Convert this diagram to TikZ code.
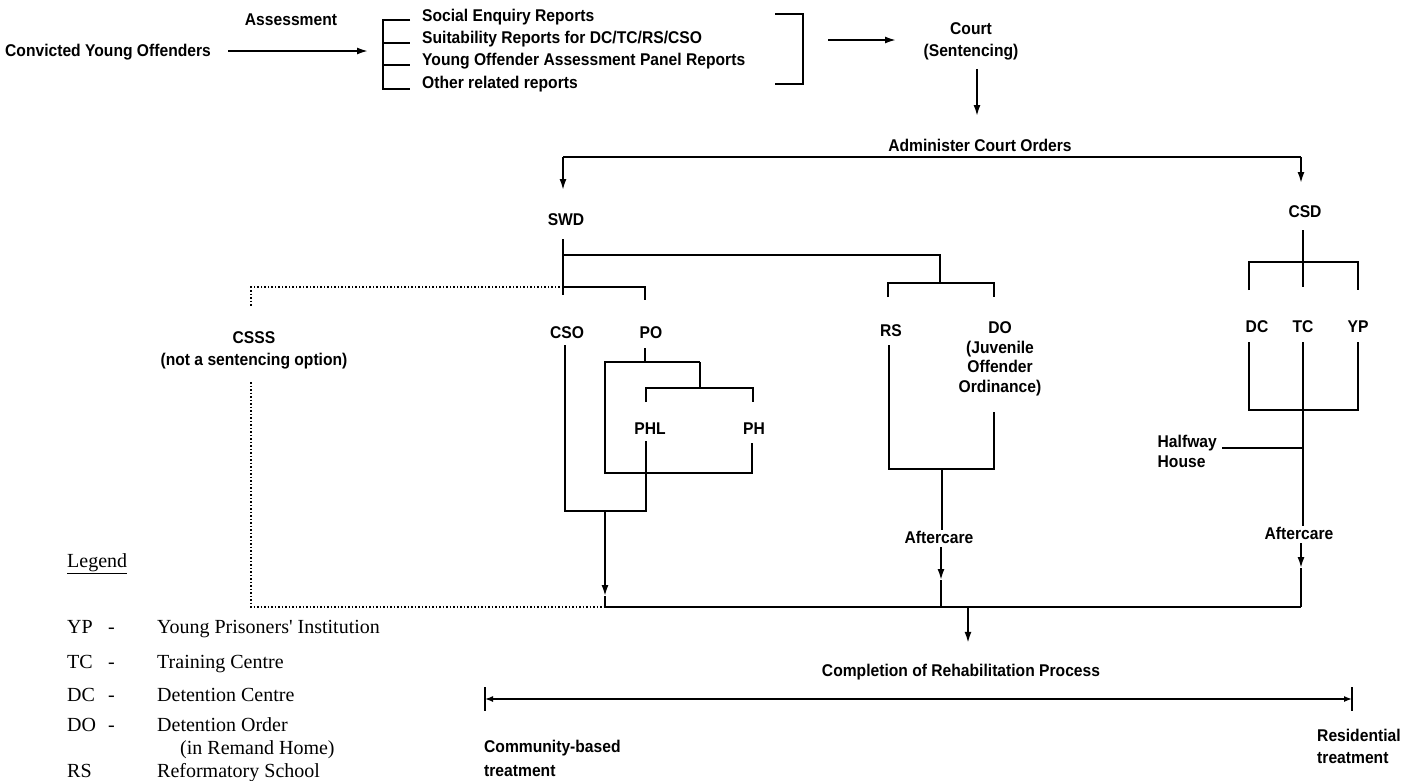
\documentclass[tikz,border=0pt]{standalone}
\usepackage{fontspec}
\setmainfont{Liberation Sans}[FakeStretch=0.92]
\newfontfamily\legendfont{Liberation Serif}
\usetikzlibrary{arrows.meta}

\begin{document}
\begin{tikzpicture}[x=1pt, y=-1pt,
                    lbl/.style={font=\bfseries\fontsize{17}{22}\selectfont, inner sep=1pt, align=center},
                    leg/.style={font=\legendfont\fontsize{20}{24}\selectfont, inner sep=0pt, anchor=base west},
                    line_style/.style={draw=black, line width=1.8pt},
                    edge_style/.style={-{Latex[length=11pt,width=7pt]}, draw=black, line width=1.8pt},
                    dot_style/.style={draw=black, line width=1.5pt, dotted}
   ]
   \useasboundingbox (0,0) rectangle (1416,780);
   \clip (0,0) rectangle (1416,780);

   % Assessment
   \node[lbl, anchor=west] (cyo) at (4,52) {Convicted Young Offenders};
   \node[lbl] (assess) at (291,20) {Assessment};
   \node[lbl, anchor=west] (rep1) at (421,17) {Social Enquiry Reports};
   \node[lbl, anchor=west] (rep2) at (421,39) {Suitability Reports for DC/TC/RS/CSO};
   \node[lbl, anchor=west] (rep3) at (421,61) {Young Offender Assessment Panel Reports};
   \node[lbl, anchor=west] (rep4) at (421,84) {Other related reports};
   \node[lbl] (court) at (971,41) {Court\\(Sentencing)};
   \node[lbl] (admin) at (980,145) {Administer Court Orders};

   % Departments
   \node[lbl] (swd) at (566,220) {SWD};
   \node[lbl] (csd) at (1305,212) {CSD};
   \node[lbl] (csss) at (254,350) {CSSS\\(not a sentencing option)};
   \node[lbl] (cso) at (567,333) {CSO};
   \node[lbl] (po) at (651,333) {PO};
   \node[lbl] (phl) at (650,429) {PHL};
   \node[lbl] (ph) at (754,429) {PH};
   \node[lbl] (rs) at (891,331) {RS};
   \node[lbl, font=\bfseries\fontsize{17}{19.5}\selectfont] (do) at (1000,359) {DO\\(Juvenile\\Offender\\Ordinance)};
   \node[lbl] (dc) at (1257,327) {DC};
   \node[lbl] (tc) at (1303,327) {TC};
   \node[lbl] (yp) at (1358,327) {YP};
   \node[lbl, align=left, anchor=east, font=\bfseries\fontsize{17}{20}\selectfont] (half) at (1218,451) {Halfway\\House};
   \node[lbl] (aft1) at (939,537) {Aftercare};
   \node[lbl] (aft2) at (1299,533) {Aftercare};

   % Completion
   \node[lbl] (done) at (961,672) {Completion of Rehabilitation Process};
   \node[lbl, align=left, anchor=west, font=\bfseries\fontsize{17}{24}\selectfont] (comm) at (483,758) {Community-based\\treatment};
   \node[lbl, align=left, anchor=west] (resid) at (1316,746) {Residential\\treatment};

   % Legend
   \node[leg] (leg_t) at (67,567) {\underline{Legend}};
   \node[leg] (ab_yp) at (67,633) {YP};
   \node[leg] (ds_yp) at (108,633) {-};
   \node[leg] (tx_yp) at (157,633) {Young Prisoners' Institution};
   \node[leg] (ab_tc) at (67,668) {TC};
   \node[leg] (ds_tc) at (108,668) {-};
   \node[leg] (tx_tc) at (157,668) {Training Centre};
   \node[leg] (ab_dc) at (67,701) {DC};
   \node[leg] (ds_dc) at (108,701) {-};
   \node[leg] (tx_dc) at (157,701) {Detention Centre};
   \node[leg] (ab_do) at (67,731) {DO};
   \node[leg] (ds_do) at (108,731) {-};
   \node[leg] (tx_do) at (157,731) {Detention Order};
   \node[leg] (tx_do2) at (180,754) {(in Remand Home)};
   \node[leg] (ab_rs) at (67,777) {RS};
   \node[leg] (tx_rs) at (157,777) {Reformatory School};

   % junctions
   \coordinate (lb_in) at (368,51);
   \coordinate (lb_t) at (410,20);
   \coordinate (lb_b) at (410,89);
   \coordinate (rb_t) at (775,14);
   \coordinate (rb_b) at (775,84);
   \coordinate (rb_out) at (828,40);
   \coordinate (court_in) at (896,40);
   \coordinate (court_out) at (977,116);
   \coordinate (adm_l) at (563,157);
   \coordinate (adm_r) at (1301,157);
   \coordinate (swd_in) at (563,190);
   \coordinate (csd_in) at (1301,183);
   \coordinate (swd_t) at (563,239);
   \coordinate (swd_j1) at (563,255);
   \coordinate (swd_j2) at (563,287);
   \coordinate (swd_b) at (563,295);
   \coordinate (inst_j) at (940,283);
   \coordinate (rs_t) at (888,297);
   \coordinate (do_t) at (994,297);
   \coordinate (po_t) at (645,300);
   \coordinate (csss_t) at (251,306);
   \coordinate (csss_b) at (251,382);
   \coordinate (cso_t) at (565,345);
   \coordinate (phl_t) at (646,441);
   \coordinate (cso_j) at (605,511);
   \coordinate (cso_arr) at (605,596);
   \coordinate (po_b) at (645,348);
   \coordinate (po_j) at (645,362);
   \coordinate (pbox_l) at (605,362);
   \coordinate (pbox_r) at (700,362);
   \coordinate (pbox_b) at (605,473);
   \coordinate (ph_b) at (752,443);
   \coordinate (ph_j) at (700,388);
   \coordinate (phl_s) at (646,402);
   \coordinate (ph_s) at (753,402);
   \coordinate (rs_b) at (889,345);
   \coordinate (do_b) at (994,412);
   \coordinate (rsdo_j) at (942,469);
   \coordinate (aft1_arr) at (941,580);
   \coordinate (csd_t) at (1303,230);
   \coordinate (csd_j) at (1303,262);
   \coordinate (tc_t) at (1303,287);
   \coordinate (dc_t) at (1249,290);
   \coordinate (yp_t) at (1358,290);
   \coordinate (dc_b) at (1249,342);
   \coordinate (tc_b) at (1303,342);
   \coordinate (yp_b) at (1358,342);
   \coordinate (inst_j2) at (1303,410);
   \coordinate (hw_j) at (1303,448);
   \coordinate (aft2_arr) at (1301,568);
   \coordinate (bot_m) at (605,607);
   \coordinate (bot_r) at (1301,607);
   \coordinate (done_j) at (968,607);
   \coordinate (cb_l) at (485,699);
   \coordinate (cb_r) at (1352,699);

   % top row
   \draw[edge_style, shorten <=16pt] (cyo.east |- lb_in) -- (lb_in);
   \draw[line_style] (lb_t) -- ++(-27,0) |- (lb_b);
   \draw[line_style] (383,43) -- (410,43);
   \draw[line_style] (383,65) -- (410,65);
   \draw[line_style] (rb_t) -- ++(28,0) |- (rb_b);
   \draw[edge_style] (rb_out) -- (court_in);
   \draw[edge_style, shorten <=8pt] (court_out |- court.south) -- (court_out);
   \draw[line_style] (adm_l) -- (adm_r);
   \draw[edge_style] (adm_l) -- (swd_in);
   \draw[edge_style] (adm_r) -- (csd_in);

   % SWD
   \draw[line_style] (swd_t) -- (swd_b);
   \draw[line_style] (swd_j1) -| (inst_j);
   \draw[line_style] (rs_t) -- (rs_t |- inst_j) -- (do_t |- inst_j) -- (do_t);
   \draw[line_style] (swd_j2) -| (po_t);
   \draw[dot_style] (swd_j2) -| (csss_t);
   \draw[dot_style] (csss_b) |- (bot_m);
   \draw[line_style] (cso_t) |- (phl_t |- cso_j) -- (phl_t);
   \draw[edge_style] (cso_j) -- (cso_arr);
   \draw[line_style] (cso_arr) -- (bot_m);
   \draw[line_style] (po_b) -- (po_j);
   \draw[line_style] (pbox_r) -- (pbox_l) -- (pbox_b) -| (ph_b);
   \draw[line_style] (pbox_r) -- (ph_j);
   \draw[line_style] (phl_s) |- (ph_s |- ph_j) -- (ph_s);
   \draw[line_style] (rs_b) |- (do_b |- rsdo_j) -- (do_b);
   \draw[line_style] (rsdo_j) -- (rsdo_j |- aft1.north);
   \draw[edge_style, shorten <=3pt] (aft1.south -| aft1_arr) -- (aft1_arr);
   \draw[line_style] (aft1_arr) -- (aft1_arr |- bot_m);

   % CSD
   \draw[line_style] (csd_t) -- (tc_t);
   \draw[line_style] (dc_t) |- (yp_t |- csd_j) -- (yp_t);
   \draw[line_style] (dc_b) |- (yp_b |- inst_j2) -- (yp_b);
   \draw[line_style] (tc_b) -- (tc_b |- aft2.north);
   \draw[line_style, shorten <=4pt] (half.east |- hw_j) -- (hw_j);
   \draw[edge_style, shorten <=3pt] (aft2.south -| aft2_arr) -- (aft2_arr);
   \draw[line_style] (aft2_arr) -- (aft2_arr |- bot_r);

   % completion
   \draw[line_style] (bot_m) -- (bot_r);
   \draw[edge_style, shorten >=20pt] (done_j) -- (done_j |- done.north);
   \draw[{Latex[length=8pt,width=6pt]}-{Latex[length=8pt,width=6pt]}, line width=1.4pt] (cb_l) -- (cb_r);
   \draw[line_style] (cb_l) ++(0,-12) -- ++(0,24);
   \draw[line_style] (cb_r) ++(0,-12) -- ++(0,24);
\end{tikzpicture}
\end{document}
